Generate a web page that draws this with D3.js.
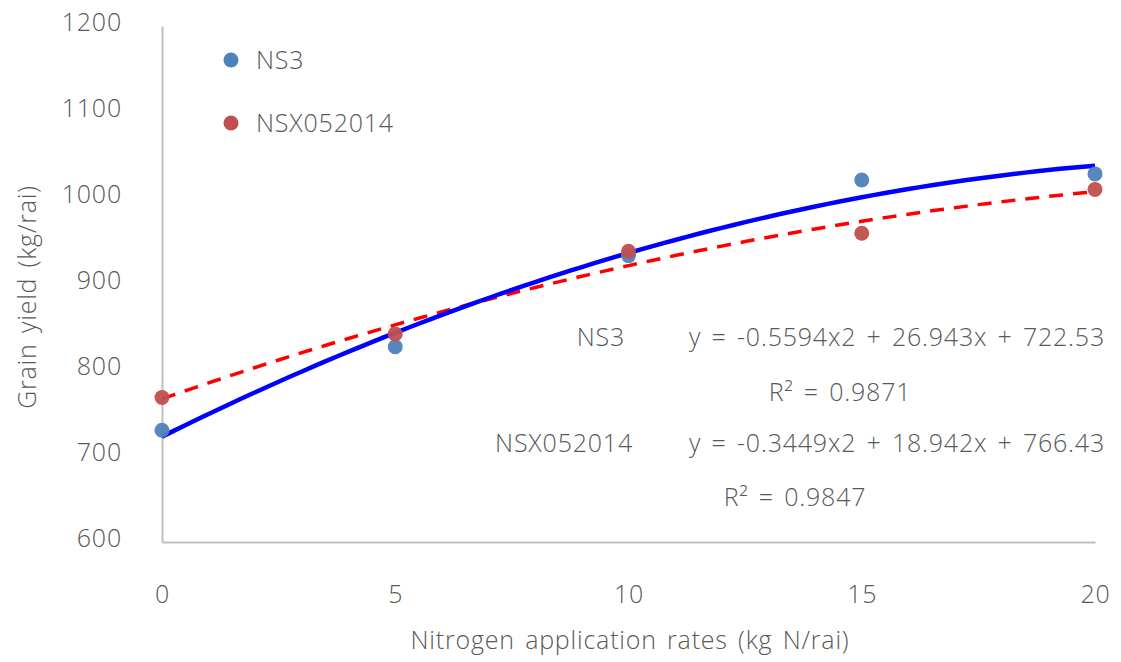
<!DOCTYPE html>
<html><head><meta charset="utf-8">
<script src="https://cdn.jsdelivr.net/npm/d3@7"></script>
<style>
body{margin:0;background:#fff;}
text{font-family:"Open Sans","Noto Sans",sans-serif;font-weight:300;fill:#595959;letter-spacing:0.8px;word-spacing:3px;}
</style></head>
<body>
<svg id="c" width="1121" height="662"></svg>
<script>
const rates = [0, 5, 10, 15, 20];
const ns3 = [730, 827, 933, 1021, 1028];
const nsx = [768, 842, 938, 959, 1010];
const ns3Coef = [-0.5594, 26.943, 722.53];
const nsxCoef = [-0.3449, 18.942, 766.43];
const xTicks = [0, 5, 10, 15, 20];
const yTicks = [600, 700, 800, 900, 1000, 1100, 1200];
const seriesNames = ["NS3", "NSX052014"];
const eqLabels = ["y = -0.5594x2 + 26.943x + 722.53", "y = -0.3449x2 + 18.942x + 766.43"];
const r2Labels = ["R² = 0.9871", "R² = 0.9847"];

const svg = d3.select("#c");
const x = d3.scaleLinear().domain([0, 20]).range([162, 1095]);
const y = d3.scaleLinear().domain([600, 1200]).range([542, 26]);
const axisColor = "#bfbfbf";
const fs = 25;

// axes
const gx = svg.append("g").attr("transform", "translate(0,542)")
  .call(d3.axisBottom(x).tickValues(xTicks).tickSize(0).tickPadding(0).tickFormat(d3.format("d")));
gx.select(".domain").attr("stroke", axisColor).attr("stroke-width", 2);
gx.selectAll(".tick text").attr("font-size", fs).attr("dy", "0").attr("y", 61).attr("fill", "#595959");
const gy = svg.append("g").attr("transform", "translate(162,0)")
  .call(d3.axisLeft(y).tickValues(yTicks).tickSize(0).tickPadding(40).tickFormat(d3.format("d")));
gy.select(".domain").attr("stroke", axisColor).attr("stroke-width", 2);
gy.selectAll(".tick text").attr("font-size", fs).attr("dy", "0.32em").attr("y", -4).attr("fill", "#595959");
svg.selectAll(".tick text").attr("font-family", null);

// trendlines
function poly(c, t){ return c[0]*t*t + c[1]*t + c[2]; }
const samples = d3.range(0, 20.01, 0.25);
const line = d3.line().x(d => x(d[0])).y(d => y(d[1])).curve(d3.curveLinear);
svg.append("path").datum(samples.map(t => [t, poly(nsxCoef, t)]))
  .attr("d", line).attr("fill", "none").attr("stroke", "#ff0000").attr("stroke-width", 3.5)
  .attr("stroke-dasharray", "14,10");
svg.append("path").datum(samples.map(t => [t, poly(ns3Coef, t)]))
  .attr("d", line).attr("fill", "none").attr("stroke", "#0000ff").attr("stroke-width", 4.5);

// points
const colors = ["#4f81bd", "#c0504d"];
[ns3, nsx].forEach((s, i) => {
  svg.append("g").selectAll("circle").data(s).enter().append("circle")
    .attr("cx", (d, j) => x(rates[j])).attr("cy", d => y(d)).attr("r", 7.5)
    .attr("fill", colors[i]).attr("opacity", 0.95);
});

// legend
seriesNames.forEach((n, i) => {
  const ly = 60 + i * 63;
  svg.append("circle").attr("cx", 231).attr("cy", ly).attr("r", 7.5).attr("fill", colors[i]);
  svg.append("text").attr("x", 256).attr("y", ly).attr("dy", "0.35em").attr("font-size", fs).text(n);
});

// equations
const eqRows = [337, 443];
const r2Rows = [[840, 392], [795, 497]];
seriesNames.forEach((n, i) => {
  svg.append("text").attr("x", i === 0 ? 625 : 633).attr("y", eqRows[i]).attr("dy", "0.35em")
    .attr("text-anchor", "end").attr("font-size", fs).text(n);
  svg.append("text").attr("x", 1105).attr("y", eqRows[i]).attr("dy", "0.35em")
    .attr("text-anchor", "end").attr("font-size", fs).text(eqLabels[i]);
  svg.append("text").attr("x", r2Rows[i][0]).attr("y", r2Rows[i][1]).attr("dy", "0.35em")
    .attr("text-anchor", "middle").attr("font-size", fs).text(r2Labels[i]);
});

// axis titles
svg.append("text").attr("x", 630).attr("y", 640).attr("dy", "0.35em").attr("text-anchor", "middle")
  .attr("font-size", fs).text("Nitrogen application rates (kg N/rai)");
svg.append("text").attr("transform", "translate(27,297) rotate(-90)").attr("dy", "0.35em")
  .attr("text-anchor", "middle").attr("font-size", fs).text("Grain yield (kg/rai)");
</script>
</body></html>
